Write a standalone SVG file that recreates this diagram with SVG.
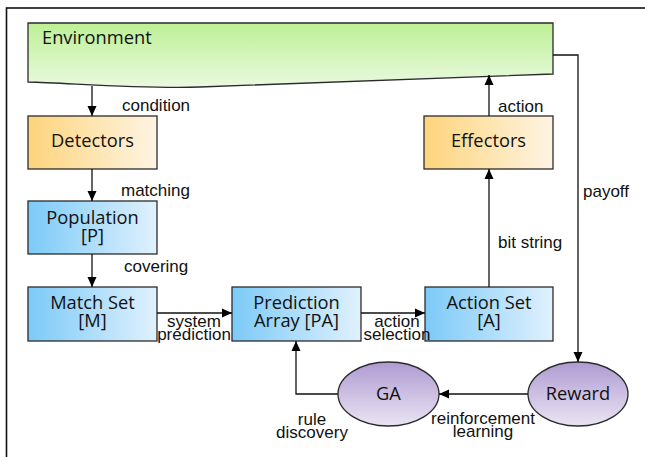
<svg xmlns="http://www.w3.org/2000/svg" width="645" height="457" viewBox="0 0 645 457">
<defs>
<linearGradient id="gEnv" x1="0" y1="0" x2="0" y2="1"><stop offset="0" stop-color="#bdf096"/><stop offset="1" stop-color="#eaf9e0"/></linearGradient>
<linearGradient id="gOr" x1="0" y1="0" x2="1" y2="0"><stop offset="0" stop-color="#fdd47c"/><stop offset="1" stop-color="#fef4e3"/></linearGradient>
<linearGradient id="gBl" x1="0" y1="0" x2="1" y2="0"><stop offset="0" stop-color="#7ccaf8"/><stop offset="1" stop-color="#e0f1fd"/></linearGradient>
<linearGradient id="gPu" x1="0" y1="0" x2="0" y2="1"><stop offset="0" stop-color="#ae9bd2"/><stop offset="1" stop-color="#ebe4f3"/></linearGradient>
<marker id="ah" markerUnits="userSpaceOnUse" markerWidth="12" markerHeight="12" viewBox="0 0 12 12" refX="11" refY="6" orient="auto"><path d="M1,1.5 L11,6 L1,10.5 Z" fill="#000"/></marker>
</defs>
<style>
.box{stroke:#2b2b2b;stroke-width:1.3}
.nt{font-family:"Open Sans","DejaVu Sans",sans-serif;font-size:18.3px;fill:#111;text-anchor:middle}
.lb{font-family:"Liberation Sans",Arial,sans-serif;font-size:17px;fill:#111}
.c{fill:none;stroke:#111;stroke-width:1.3;marker-end:url(#ah)}
</style>
<rect x="6.5" y="8" width="700" height="500" fill="none" stroke="#111" stroke-width="1.6"/>

<g id="environment">
<path class="box" d="M28,23 H553 V74 L200,87 C140,89 70,83 28,82 Z" fill="url(#gEnv)"/>
<text class="nt" x="42" y="44" style="text-anchor:start">Environment</text>
</g>
<g id="detectors">
<rect class="box" x="28" y="116" width="129" height="53" fill="url(#gOr)"/>
<text class="nt" x="92.5" y="147">Detectors</text>
</g>
<g id="population">
<rect class="box" x="28" y="201" width="129" height="53" fill="url(#gBl)"/>
<text class="nt" x="92.5" y="224">Population</text>
<text class="nt" x="92.5" y="242">[P]</text>
</g>
<g id="matchset">
<rect class="box" x="28" y="287" width="129" height="54" fill="url(#gBl)"/>
<text class="nt" x="92.5" y="309">Match Set</text>
<text class="nt" x="92.5" y="327">[M]</text>
</g>
<g id="predictionarray">
<rect class="box" x="232" y="287" width="129" height="54" fill="url(#gBl)"/>
<text class="nt" x="296.5" y="309">Prediction</text>
<text class="nt" x="296.5" y="327">Array [PA]</text>
</g>
<g id="actionset">
<rect class="box" x="425" y="287" width="128" height="54" fill="url(#gBl)"/>
<text class="nt" x="489" y="309">Action Set</text>
<text class="nt" x="489" y="327">[A]</text>
</g>
<g id="effectors">
<rect class="box" x="424" y="116" width="129" height="53" fill="url(#gOr)"/>
<text class="nt" x="488.5" y="147">Effectors</text>
</g>
<g id="ga">
<ellipse class="box" cx="388.5" cy="394" rx="50.5" ry="32" fill="url(#gPu)"/>
<text class="nt" x="388.5" y="400">GA</text>
</g>
<g id="reward">
<ellipse class="box" cx="578" cy="394" rx="50" ry="32" fill="url(#gPu)"/>
<text class="nt" x="578" y="400">Reward</text>
</g>

<g id="connectors">
<path class="c" d="M92,86 V116"/>
<path class="c" d="M92,169 V201"/>
<path class="c" d="M92,254 V287"/>
<path class="c" d="M157,313 H232"/>
<path class="c" d="M361,313 H425"/>
<path class="c" d="M489,287 V169"/>
<path class="c" d="M489,116 V75"/>
<path class="c" d="M553,55 H578 V362"/>
<path class="c" d="M528,394 H439"/>
<path class="c" d="M338,394 H296 V341"/>
</g>

<g id="labels">
<text class="lb" x="122" y="111">condition</text>
<text class="lb" x="121" y="196">matching</text>
<text class="lb" x="124" y="272">covering</text>
<text class="lb" x="498" y="112">action</text>
<text class="lb" x="583" y="197">payoff</text>
<text class="lb" x="498" y="248">bit string</text>
<text class="lb" x="194" y="327" text-anchor="middle">system</text>
<text class="lb" x="194" y="340" text-anchor="middle">prediction</text>
<text class="lb" x="397" y="327" text-anchor="middle">action</text>
<text class="lb" x="397" y="340" text-anchor="middle">selection</text>
<text class="lb" x="312" y="425" text-anchor="middle">rule</text>
<text class="lb" x="312" y="438" text-anchor="middle">discovery</text>
<text class="lb" x="483" y="424" text-anchor="middle">reinforcement</text>
<text class="lb" x="483" y="437" text-anchor="middle">learning</text>
</g>
</svg>
